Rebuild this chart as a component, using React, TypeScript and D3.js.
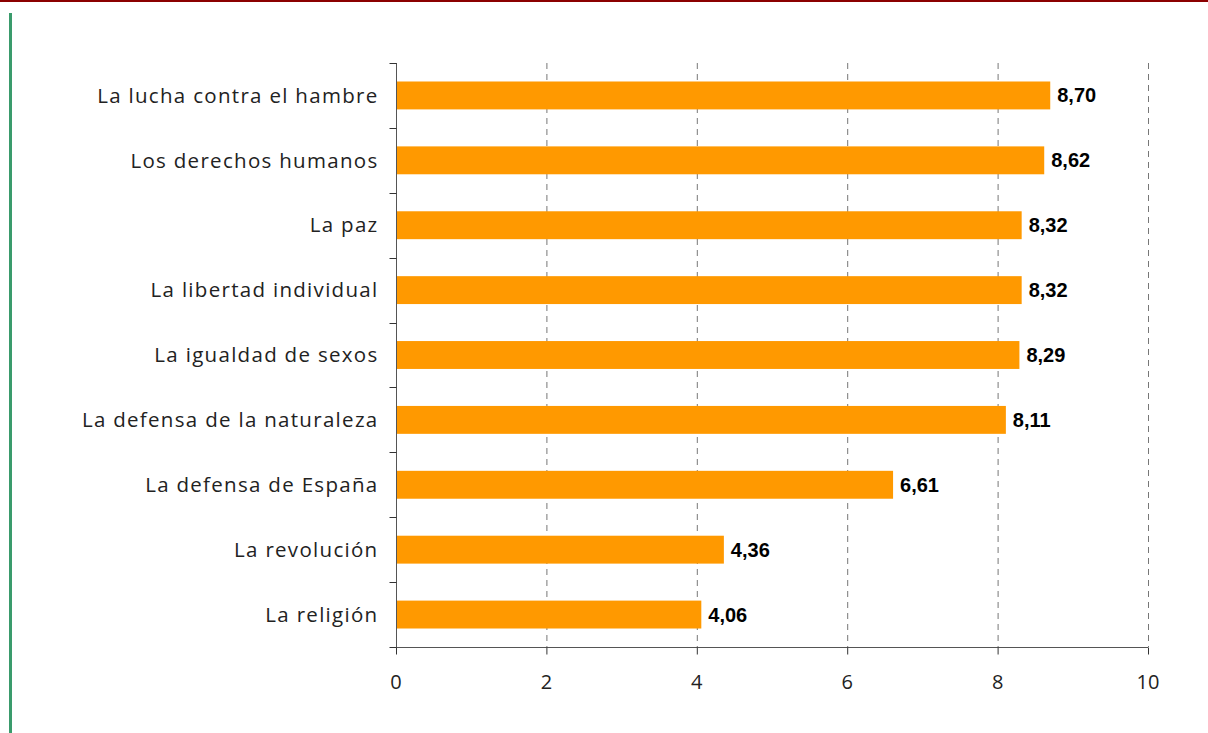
import * as d3 from "d3";
import React, { useEffect, useRef } from "react";

const categories = [
  "La lucha contra el hambre",
  "Los derechos humanos",
  "La paz",
  "La libertad individual",
  "La igualdad de sexos",
  "La defensa de la naturaleza",
  "La defensa de España",
  "La revolución",
  "La religión",
];
const values = [8.7, 8.62, 8.32, 8.32, 8.29, 8.11, 6.61, 4.36, 4.06];
const xTicks = [0, 2, 4, 6, 8, 10];

const App: React.FC = () => {
  const svgRef = useRef<SVGSVGElement>(null);

  useEffect(() => {
    const svg = d3.select(svgRef.current);
    svg.selectAll("*").remove();

    const W = 1208, H = 733;
    const left = 396, right = 1148, top = 63, bottom = 647;

    // decoration lines
    svg.append("rect").attr("x", 0).attr("y", 0).attr("width", W).attr("height", 2).attr("fill", "#8b0000");
    svg.append("rect").attr("x", 9).attr("y", 13).attr("width", 3).attr("height", H - 13).attr("fill", "#3a9b6c");

    const x = d3.scaleLinear().domain([0, 10]).range([left, right]);
    const y = d3.scaleBand().domain(categories).range([top, bottom]).paddingInner(0.57).paddingOuter(0.285);
    const yb = d3.scaleBand().domain(categories).range([top, bottom]);

    // grid
    svg.append("g")
      .selectAll("line")
      .data(xTicks.filter((t) => t > 0))
      .join("line")
      .attr("x1", (d) => x(d) + 0.5)
      .attr("x2", (d) => x(d) + 0.5)
      .attr("y1", top)
      .attr("y2", bottom)
      .attr("stroke", "#777")
      .attr("stroke-width", 1)
      .attr("stroke-dasharray", "6,5");

    // bars
    svg.append("g")
      .selectAll("rect")
      .data(values)
      .join("rect")
      .attr("x", x(0))
      .attr("y", (_, i) => y(categories[i])!)
      .attr("width", (d) => x(d) - x(0))
      .attr("height", y.bandwidth())
      .attr("fill", "#ff9900");

    // value labels
    svg.append("g")
      .selectAll("text")
      .data(values)
      .join("text")
      .attr("x", (d) => x(d) + 7)
      .attr("y", (_, i) => y(categories[i])! + y.bandwidth() / 2)
      .attr("dy", "0.35em")
      .style("font-family", "'Liberation Sans', Arial, sans-serif")
      .style("font-weight", "bold")
      .style("font-size", "20px")
      .attr("fill", "#000")
      .text((d) => d.toFixed(2).replace(".", ","));

    // y axis
    const yAxis = svg.append("g").attr("transform", `translate(${left + 0.5},0)`);
    yAxis.append("line").attr("x1", 0).attr("x2", 0).attr("y1", top).attr("y2", bottom).attr("stroke", "#555");
    yAxis.selectAll("line.tick")
      .data([...categories.map((c) => yb(c)!), bottom])
      .join("line")
      .attr("class", "tick")
      .attr("x1", -7)
      .attr("x2", 0)
      .attr("y1", (d) => Math.round(d) + 0.5)
      .attr("y2", (d) => Math.round(d) + 0.5)
      .attr("stroke", "#333");
    yAxis.selectAll("text")
      .data(categories)
      .join("text")
      .attr("x", -18)
      .attr("y", (d) => yb(d)! + yb.bandwidth() / 2)
      .attr("dy", "0.35em")
      .attr("text-anchor", "end")
      .style("font-family", "'Open Sans', sans-serif")
      .style("font-size", "20.5px")
      .style("letter-spacing", "1.3px")
      .attr("fill", "#222")
      .text((d) => d);

    // x axis
    const xAxis = svg.append("g").attr("transform", `translate(0,${bottom + 0.5})`);
    xAxis.append("line").attr("x1", left).attr("x2", right).attr("stroke", "#555");
    xAxis.selectAll("line.tick")
      .data(xTicks)
      .join("line")
      .attr("class", "tick")
      .attr("x1", (d) => x(d) + 0.5)
      .attr("x2", (d) => x(d) + 0.5)
      .attr("y1", 0)
      .attr("y2", 7)
      .attr("stroke", "#333");
    xAxis.selectAll("text")
      .data(xTicks)
      .join("text")
      .attr("x", (d) => x(d))
      .attr("y", 41)
      .attr("text-anchor", "middle")
      .style("font-family", "'Open Sans', sans-serif")
      .style("font-size", "20px")
      .attr("fill", "#222")
      .text((d) => String(d));
  }, []);

  return (
    <svg
      ref={svgRef}
      width={1208}
      height={733}
      style={{ position: "absolute", left: 0, top: 0, background: "#fff" }}
    />
  );
};

export default App;
